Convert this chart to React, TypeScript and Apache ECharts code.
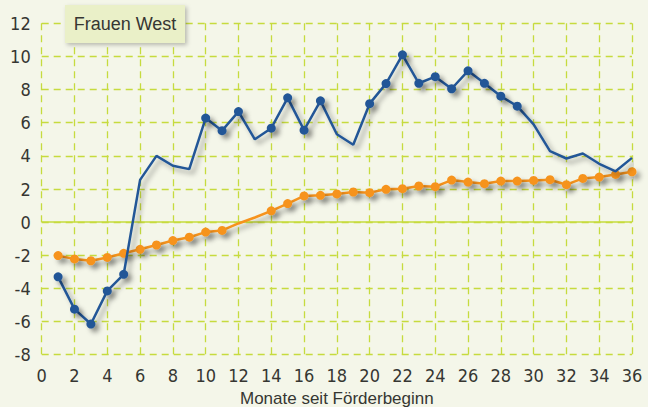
import React, { useEffect, useRef } from "react";
import * as echarts from "echarts";

const months: number[] = Array.from({ length: 36 }, (_, i) => i + 1);

const blueValues: number[] = [
  -3.3, -5.25, -6.15, -4.15, -3.15, 2.55, 4.0, 3.4, 3.2, 6.28,
  5.52, 6.67, 5.0, 5.67, 7.5, 5.55, 7.32, 5.3, 4.67, 7.15,
  8.36, 10.1, 8.38, 8.78, 8.05, 9.13, 8.38, 7.6, 7.0, 5.9,
  4.28, 3.84, 4.14, 3.52, 3.07, 3.88,
];
const blueMarked: number[] = [1, 2, 3, 4, 5, 10, 11, 12, 14, 15, 16, 17, 20, 21, 22, 23, 24, 25, 26, 27, 28, 29];

const orangeValues: number[] = [
  -2.02, -2.22, -2.33, -2.13, -1.88, -1.64, -1.38, -1.11, -0.91, -0.6,
  -0.5, -0.08, 0.28, 0.68, 1.12, 1.58, 1.62, 1.7, 1.82, 1.78,
  1.98, 2.02, 2.18, 2.14, 2.54, 2.42, 2.32, 2.48, 2.48, 2.52,
  2.56, 2.26, 2.64, 2.72, 2.88, 3.04,
];
const orangeUnmarked: number[] = [12, 13];

const xTicks = { min: 0, max: 36, interval: 2 };
const yTicks = { min: -8, max: 12, interval: 2 };
const panelTitle = "Frauen West";
const xAxisTitle = "Monate seit Förderbeginn";

const FONT = "'Liberation Sans', 'DejaVu Sans', sans-serif";
const NARROW = "'Liberation Sans Narrow', 'DejaVu Sans Condensed', 'Liberation Sans', sans-serif";
const TEXT = "#363632";
const GRID = "#c6db3e";
const BLUE = "#245797";
const ORANGE = "#f6931f";
const BG = "#f4f6e9";

export default function App() {
  const ref = useRef<HTMLDivElement>(null);
  useEffect(() => {
    if (!ref.current) return;
    const chart = echarts.init(ref.current, null, { renderer: "svg" });
    const shadow = {
      shadowColor: "rgba(0,0,0,0.35)",
      shadowBlur: 5,
      shadowOffsetX: 4,
      shadowOffsetY: 4,
    };
    const blueData = months.map((m, i) =>
      blueMarked.includes(m)
        ? { value: [m, blueValues[i]] }
        : { value: [m, blueValues[i]], symbol: "none" }
    );
    const orangeData = months.map((m, i) =>
      orangeUnmarked.includes(m)
        ? { value: [m, orangeValues[i]], symbol: "none" }
        : { value: [m, orangeValues[i]] }
    );
    chart.setOption({
      animation: false,
      backgroundColor: BG,
      textStyle: { fontFamily: FONT },
      grid: {
        left: 41.7,
        right: 16,
        top: 23.3,
        bottom: 52.3,
        containLabel: false,
        outerBoundsMode: "none",
      },
      xAxis: {
        type: "value",
        min: xTicks.min,
        max: xTicks.max,
        interval: xTicks.interval,
        name: xAxisTitle,
        nameLocation: "middle",
        nameGap: 34,
        nameTextStyle: { color: TEXT, fontSize: 17, fontFamily: FONT },
        axisLine: { show: false },
        axisTick: { show: false },
        axisLabel: { color: TEXT, fontSize: 18, margin: 12, fontFamily: NARROW },
        splitLine: { show: true, lineStyle: { color: GRID, type: [7, 5], width: 1.3 } },
      },
      yAxis: {
        type: "value",
        min: yTicks.min,
        max: yTicks.max,
        interval: yTicks.interval,
        axisLine: { show: false },
        axisTick: { show: false },
        axisLabel: { color: TEXT, fontSize: 18, margin: 11, fontFamily: NARROW },
        splitLine: { show: true, lineStyle: { color: GRID, type: [7, 5], width: 1.3 } },
      },
      graphic: [
        {
          type: "rect",
          shape: { x: 65, y: 5, width: 120, height: 38 },
          style: {
            fill: "#eaf0c8",
            shadowColor: "rgba(0,0,0,0.25)",
            shadowBlur: 4,
            shadowOffsetX: 2,
            shadowOffsetY: 2,
          },
          z: 10,
        },
        {
          type: "text",
          x: 125,
          y: 24,
          style: {
            text: panelTitle,
            fill: TEXT,
            font: `18px ${FONT}`,
            align: "center",
            verticalAlign: "middle",
          },
          z: 11,
        },
      ],
      series: [
        {
          type: "line",
          data: orangeData,
          symbol: "circle",
          symbolSize: 9,
          showSymbol: true,
          color: ORANGE,
          lineStyle: { color: ORANGE, width: 2.5, ...shadow },
          itemStyle: { color: ORANGE, ...shadow },
          markLine: {
            silent: true,
            symbol: "none",
            label: { show: false },
            lineStyle: { color: GRID, type: "solid", width: 1.5, shadowBlur: 0 },
            data: [{ yAxis: 0 }],
            z: 1,
          },
          z: 3,
        },
        {
          type: "line",
          data: blueData,
          symbol: "circle",
          symbolSize: 9,
          showSymbol: true,
          color: BLUE,
          lineStyle: { color: BLUE, width: 2.5, ...shadow },
          itemStyle: { color: BLUE, ...shadow },
          z: 4,
        },
      ],
    });
    return () => chart.dispose();
  }, []);
  return (
    <div
      ref={ref}
      style={{ position: "fixed", left: 0, top: 0, width: 648, height: 407 }}
    />
  );
}
